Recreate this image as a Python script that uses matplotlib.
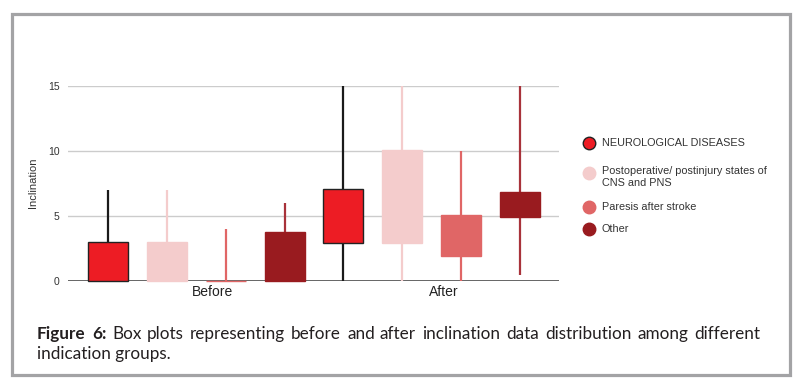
import matplotlib
matplotlib.use("Agg")
import matplotlib.pyplot as plt
from matplotlib.patches import Rectangle
from matplotlib.lines import Line2D

# data (Inclination)
groups = ["Before", "After"]
series = ["NEUROLOGICAL DISEASES",
          "Postoperative/ postinjury states of\nCNS and PNS",
          "Paresis after stroke",
          "Other"]
whisker_low = [[0, 0], [0, 0], [0, 0], [0, 0.45]]
box_low = [[0, 2.9], [0, 2.9], [0, 1.9], [0, 4.9]]
box_high = [[3, 7.1], [3, 10.05], [0, 5.05], [3.8, 6.85]]
whisker_high = [[7, 15], [7, 15], [4, 10], [6, 15]]

caption_bold = "Figure 6:"
caption_line1 = "Box plots representing before and after inclination data distribution among different"
caption_line2 = "indication groups."

face_colors = ["#ed1c24", "#f4cccc", "#e06666", "#991b1f"]
edge_colors = ["#222222", "#f4cccc", "#e06666", "#991b1f"]
whisker_colors = ["#1a1a1a", "#f4cccc", "#e06666", "#a8323a"]

W, H = 801, 384
fig = plt.figure(figsize=(W / 100, H / 100), dpi=100)
plt.rcParams['font.family'] = ['Liberation Sans', 'DejaVu Sans']


def fx(px):
    return px / W


def fy(py):
    return 1 - py / H


ax = fig.add_axes([fx(68), fy(281), fx(559) - fx(68), fy(86) - fy(281)])
ax.set_xlim(0, 2)
ax.set_ylim(0, 15)

group_centers = [0.523, 1.4805]
step = 0.24
box_w = 0.163

for i in range(len(series)):
    for g in range(len(groups)):
        x = group_centers[g] + (i - 1.5) * step
        ax.plot([x, x], [whisker_low[i][g], whisker_high[i][g]],
                color=whisker_colors[i], lw=1.6, zorder=3,
                solid_capstyle='butt', clip_on=False)
        lo, hi = box_low[i][g], box_high[i][g]
        rect = Rectangle((x - box_w / 2, lo), box_w, hi - lo,
                         facecolor=face_colors[i], edgecolor=edge_colors[i],
                         lw=1.0, zorder=4, clip_on=False)
        ax.add_patch(rect)

ax.set_yticks([0, 5, 10, 15])
ax.set_yticklabels(["0", "5", "10", "15"], fontsize=7.5, color="#333333")
ax.tick_params(axis='y', length=0, pad=6)
ax.grid(axis='y', color="#cccccc", lw=1.0, zorder=0)
ax.axhline(0, color="#666666", lw=1.4, zorder=2)
for s in ax.spines.values():
    s.set_visible(False)

ax.set_xticks([0.59, 1.53])
ax.set_xticklabels(groups, fontsize=10, color="#222222")
ax.tick_params(axis='x', length=0, pad=3)

fig.text(fx(33), fy(183), "Inclination", rotation=90, fontsize=8,
         color="#333333", ha='center', va='center')

# legend drawn by hand
leg_y = [142.7, 172.7, 207, 229]
for i, name in enumerate(series):
    fig.add_artist(Line2D([fx(589)], [fy(leg_y[i])], marker='o', markersize=9,
                          markerfacecolor=face_colors[i],
                          markeredgecolor=edge_colors[i], markeredgewidth=1.0,
                          linestyle='none'))
    if "\n" in name:
        fig.text(fx(602), fy(leg_y[i] - 6.5), name, fontsize=7.8, color="#333333",
                 ha='left', va='top', linespacing=1.25)
    else:
        fig.text(fx(602), fy(leg_y[i]), name, fontsize=7.8, color="#333333",
                 ha='left', va='center')

# caption, first line justified between x=37 and x=760
cap_font = ['Lato', 'DejaVu Sans']
cap_size = 12.3
cap_color = "#231f20"
renderer = fig.canvas.get_renderer()
words = [(w, 'bold') for w in caption_bold.split()] + \
        [(w, 'normal') for w in caption_line1.split()]
texts = []
for w, weight in words:
    t = fig.text(0, fy(339), w, fontsize=cap_size, fontweight=weight,
                 family=cap_font, color=cap_color, ha='left', va='baseline')
    texts.append(t)
widths = [t.get_window_extent(renderer).width for t in texts]
left, right = 37, 760
gap = (right - left - sum(widths)) / (len(texts) - 1)
xpos = left
for t, wd in zip(texts, widths):
    t.set_x(fx(round(xpos)))
    xpos += wd + gap
fig.text(fx(left), fy(359), caption_line2, fontsize=cap_size, family=cap_font,
         color=cap_color, ha='left', va='baseline')

# outer frame
fig.add_artist(Rectangle((fx(11.5), fy(374.5)), fx(789.5) - fx(11.5), fy(13.5) - fy(374.5),
                         fill=False, edgecolor="#a3a3a5", lw=2.3))

fig.savefig("out.png", dpi=100)
